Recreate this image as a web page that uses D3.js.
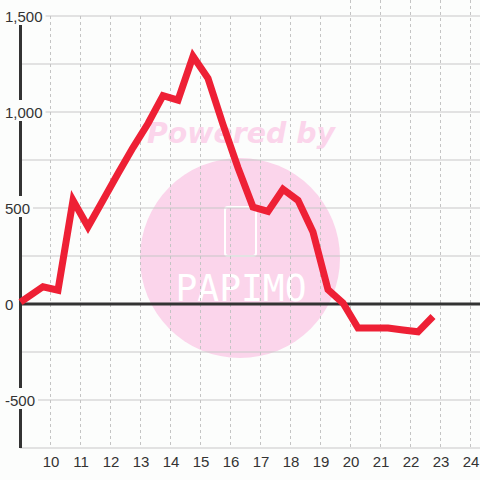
<!DOCTYPE html>
<html>
<head>
<meta charset="utf-8">
<script src="https://cdn.jsdelivr.net/npm/d3@7/dist/d3.min.js"></script>
<style>
  body { margin: 0; background: #fcfdfc; }
  text { font-family: "Liberation Sans", Arial, sans-serif; }
</style>
</head>
<body>
<div id="chart"></div>
<script>
// time of day (hours) and value
var hours  = [9, 9.75, 10.25, 10.75, 11.25, 11.75, 12.25, 12.75, 13.25, 13.75, 14.25, 14.75, 15.25, 15.75,
              16.25, 16.75, 17.25, 17.75, 18.25, 18.75, 19.25, 19.75, 20.25, 20.75, 21.25, 21.75, 22.25, 22.75];
var values = [10, 90, 72, 540, 402, 540, 680, 815, 940, 1085, 1062, 1290, 1175, 935,
              710, 505, 482, 598, 540, 375, 75, 5, -125, -125, -125, -135, -145, -65];
var xTicks = [10, 11, 12, 13, 14, 15, 16, 17, 18, 19, 20, 21, 22, 23, 24];
var yGrid = [-750, -500, -250, 250, 500, 750, 1000, 1250, 1500];
var yLabels = [-500, 0, 500, 1000, 1500];

var width = 480, height = 480;
var fmt = d3.formatLocale({decimal: ".", thousands: ",", grouping: [3], currency: ["", ""], minus: "-"}).format(",");

var svg = d3.select("#chart").append("svg")
    .attr("width", width).attr("height", height);
svg.append("rect").attr("width", width).attr("height", height).attr("fill", "#fcfdfc");

var x = d3.scaleLinear().domain([9, 25]).range([20.5, 500.5]);
var y = d3.scaleLinear().domain([-750, 1500]).range([448, 16]);

// watermark, behind the grid
var wm = svg.append("g");
wm.append("circle").attr("cx", 240).attr("cy", 258).attr("r", 100).attr("fill", "#fbd5eb");
wm.append("text").attr("x", 241).attr("y", 143).attr("text-anchor", "middle")
    .attr("font-size", 28).attr("font-weight", "bold").attr("font-style", "italic")
    .style("font-family", "'DejaVu Sans', sans-serif")
    .attr("textLength", 188).attr("lengthAdjust", "spacingAndGlyphs")
    .attr("fill", "#fbd5eb").text("Powered by");
wm.append("rect").attr("x", 225).attr("y", 207).attr("width", 31).attr("height", 49).attr("rx", 3)
    .attr("fill", "none").attr("stroke", "#fff").attr("stroke-width", 2);
wm.append("text").attr("x", 241).attr("y", 301).attr("text-anchor", "middle")
    .attr("font-size", 38).style("font-family", "'DejaVu Sans Mono', monospace")
    .attr("textLength", 131).attr("lengthAdjust", "spacingAndGlyphs")
    .attr("fill", "#fff").text("PAPIMO");

// horizontal grid
svg.append("g").selectAll("line").data(yGrid).enter().append("line")
    .attr("x1", 20).attr("x2", width)
    .attr("y1", function(d){ return y(d); }).attr("y2", function(d){ return y(d); })
    .attr("stroke", "#c8c8c8").attr("stroke-width", 1.2);

// vertical dashed grid
svg.append("g").selectAll("line").data(xTicks).enter().append("line")
    .attr("x1", function(d){ return x(d); }).attr("x2", function(d){ return x(d); })
    .attr("y1", function(d){ return d >= 20 ? 0 : y(1500); }).attr("y2", y(-750))
    .attr("stroke", "#c4c4c4").attr("stroke-width", 1).attr("stroke-dasharray", "3,3");

// y axis + zero line
svg.append("line").attr("x1", x(9)).attr("x2", x(9)).attr("y1", y(1500)).attr("y2", y(-750))
    .attr("stroke", "#333").attr("stroke-width", 3);
svg.append("line").attr("x1", x(9)).attr("x2", width).attr("y1", y(0)).attr("y2", y(0))
    .attr("stroke", "#333").attr("stroke-width", 3);

// x axis labels
var xAxis = svg.append("g").attr("transform", "translate(0," + y(-750) + ")")
    .call(d3.axisBottom(x).tickValues(xTicks).tickSize(0).tickPadding(8));
xAxis.select(".domain").remove();
xAxis.selectAll("text").attr("font-size", 15).attr("fill", "#333")
    .style("font-family", "'Liberation Sans', Arial, sans-serif");

// y labels with background boxes
var yl = svg.append("g").selectAll("g").data(yLabels).enter().append("g")
    .attr("transform", function(d){ return "translate(0," + y(d) + ")"; });
var ylBox = yl.append("rect").attr("fill", "#fcfdfc");
var ylText = yl.append("text").attr("x", 5).attr("y", 5.5)
    .attr("font-size", 15).attr("fill", "#333").text(function(d){ return fmt(d); });
ylText.each(function(d, i){
    var w = this.getComputedTextLength();
    d3.select(this.parentNode).select("rect")
        .attr("x", 0).attr("y", -12).attr("width", w + 8).attr("height", 21);
});

// series line
var line = d3.line().x(function(d, i){ return x(hours[i]); }).y(function(d){ return y(d); });
svg.append("path").datum(values).attr("d", line)
    .attr("fill", "none").attr("stroke", "#ee2035").attr("stroke-width", 7);
</script>
</body>
</html>
